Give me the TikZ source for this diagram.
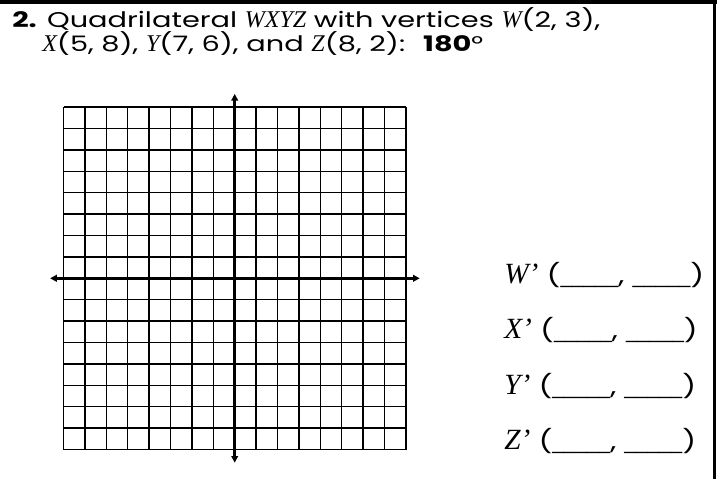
\documentclass[tikz,border=0pt]{standalone}
\usepackage{fontspec}
\setmainfont{Poppins}[FakeStretch=1.35]
\newfontfamily\tms{Liberation Serif}
\newfontfamily\lib{Liberation Sans}
\usetikzlibrary{arrows.meta}

\begin{document}
\begin{tikzpicture}[x=0.75pt,y=0.75pt,
  >={Triangle[length=5pt,width=5pt]},
  ttl/.style={anchor=base west,inner sep=0pt,align=left,font={\fontsize{16}{18.6}\selectfont\lineskiplimit=-20pt}},
  ans/.style={anchor=base west,inner sep=0pt,font=\fontsize{17}{20}\selectfont},
  gridline/.style={line width=1.1pt},
  axis/.style={line width=2.3pt,<->}]

  \useasboundingbox (0,0) rectangle (717,479);

  % frame
  \draw[line width=3pt] (0,477) -- (717,477);
  \draw[line width=2.5pt] (714.3,0) -- (714.3,479);

  % question (base = second line)
  \node[ttl] (question) at (12,427) {\textbf{2.} Quadrilateral {\tms\itshape\fontsize{18}{18.6}\selectfont WXYZ} with vertices {\tms\itshape\fontsize{18}{18.6}\selectfont W}(2, 3),\\
    \hspace*{22.5pt}{\tms\itshape\fontsize{18}{18.6}\selectfont X}(5, 8), {\tms\itshape\fontsize{18}{18.6}\selectfont Y}(7, 6), and {\tms\itshape\fontsize{18}{18.6}\selectfont Z}(8, 2): \ \textbf{180}°};

  % coordinate plane
  \begin{scope}[shift={(234.7,200.7)},scale=21.4]
    \coordinate (orig) at (0,0);
    \coordinate (left) at (-8.63,0);
    \coordinate (right) at (8.65,0);
    \coordinate (up) at (0,8.62);
    \coordinate (down) at (0,-8.62);

    \foreach \i in {-8,...,8} {
      \draw[gridline] (\i,-8) -- (\i,8);
      \draw[gridline] (-8,\i) -- (8,\i);
    }

    \draw[axis] (left) -- (right); % x
    \draw[axis] (down) -- (up); % y
  \end{scope}

  % answer blanks
  \foreach \v/\y in {W/196,X/140.5,Y/85,Z/29.5} {
    \node[ans] (\v prime) at (504,\y) {{\tms\itshape\fontsize{22}{26}\selectfont \v’} ({\lib\fontsize{15.6}{18}\selectfont\_\_\_\_\_},\ {\lib\fontsize{15.6}{18}\selectfont\_\_\_\_\_})};
  }
\end{tikzpicture}
\end{document}
